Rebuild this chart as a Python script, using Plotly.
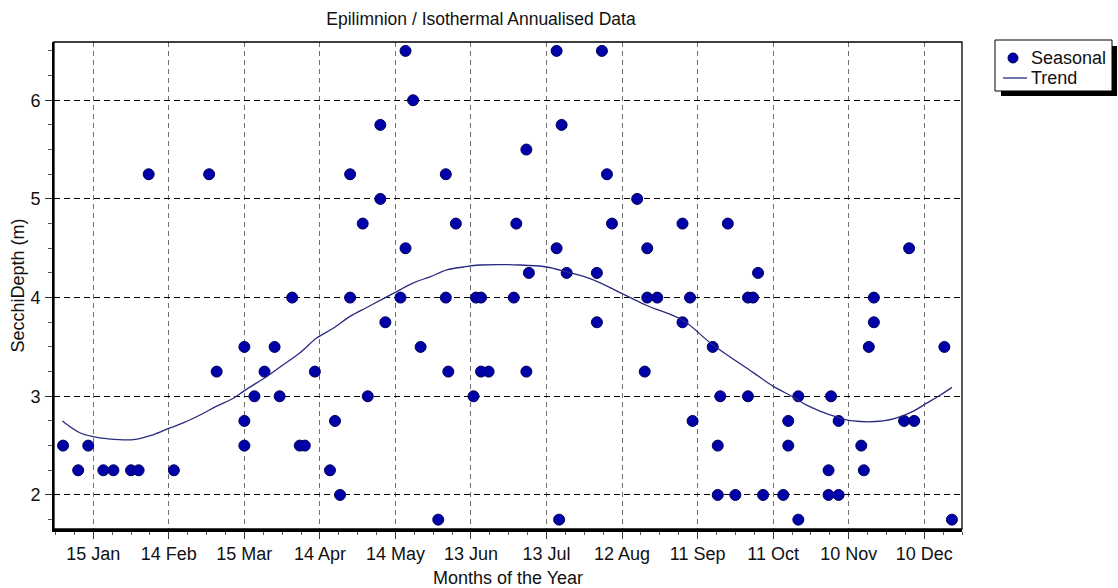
import plotly.graph_objects as go

# ---- data (day of year, Secchi depth in m) ----
seasonal_day = [3, 9, 13, 19, 23, 30, 33, 37, 47, 61, 64, 75, 75, 75, 79, 83, 87, 89, 94, 97,
                99, 103, 109, 111, 113, 117, 117, 122, 124, 129, 129, 131, 137, 139, 139, 142, 145, 152, 155, 155,
                156, 159, 166, 167, 169, 169, 172, 182, 183, 187, 187, 188, 199, 199, 200, 201, 203, 215, 215, 217,
                219, 221, 231, 234, 235, 235, 239, 249, 249, 252, 253, 261, 263, 263, 264, 267, 270, 275, 275, 277,
                279, 281, 289, 291, 291, 295, 295, 307, 307, 308, 311, 311, 320, 321, 323, 325, 325, 337, 339, 341,
                353, 356]
seasonal_depth = [2.5, 2.25, 2.5, 2.25, 2.25, 2.25, 2.25, 5.25, 2.25, 5.25, 3.25, 3.5, 2.75, 2.5, 3.0, 3.25, 3.5, 3.0, 4.0, 2.5,
                  2.5, 3.25, 2.25, 2.75, 2.0, 4.0, 5.25, 4.75, 3.0, 5.0, 5.75, 3.75, 4.0, 4.5, 6.5, 6.0, 3.5, 1.75, 5.25, 4.0,
                  3.25, 4.75, 3.0, 4.0, 4.0, 3.25, 3.25, 4.0, 4.75, 5.5, 3.25, 4.25, 6.5, 4.5, 1.75, 5.75, 4.25, 4.25, 3.75, 6.5,
                  5.25, 4.75, 5.0, 3.25, 4.0, 4.5, 4.0, 4.75, 3.75, 4.0, 2.75, 3.5, 2.5, 2.0, 3.0, 4.75, 2.0, 3.0, 4.0, 4.0,
                  4.25, 2.0, 2.0, 2.75, 2.5, 3.0, 1.75, 2.25, 2.0, 3.0, 2.0, 2.75, 2.5, 2.25, 3.5, 4.0, 3.75, 2.75, 4.5, 2.75,
                  3.5, 1.75]

trend_day = [2.7, 9.7, 15, 20.3, 30.9, 38.8, 45.5, 50.7, 57.4, 64, 70.6, 75.2, 83.9, 90.5, 97.1, 103.7, 110.3, 117,
             123.6, 130.2, 135.5, 142.1, 148.7, 155.4, 162, 168.6, 184.5, 195, 203, 213.6, 224.2, 234.8, 249.1,
             260.6, 277.1, 285.1, 292.4, 298.3, 303.6, 310.2, 316.8, 328.7, 334.1, 340.7, 346, 351.3, 356]
trend_depth = [2.75, 2.63, 2.59, 2.57, 2.56, 2.61, 2.68, 2.73, 2.81, 2.90, 2.98, 3.06, 3.20, 3.32, 3.44, 3.59, 3.69, 3.81,
               3.90, 3.99, 4.06, 4.15, 4.21, 4.28, 4.31, 4.33, 4.33, 4.31, 4.26, 4.18, 4.05, 3.92, 3.77,
               3.53, 3.24, 3.10, 3.00, 2.91, 2.85, 2.79, 2.75, 2.75, 2.78, 2.85, 2.93, 3.01, 3.09]

tick_days = [15, 45, 75, 105, 135, 165, 195, 225, 255, 285, 315, 345]
tick_labels = ["15 Jan", "14 Feb", "15 Mar", "14 Apr", "14 May", "13 Jun", "13 Jul",
               "12 Aug", "11 Sep", "11 Oct", "10 Nov", "10 Dec"]

legend_labels = ["Seasonal", "Trend"]

FONT = "Arial, Liberation Sans, sans-serif"
TXT = "#111111"
MARK_FILL, MARK_EDGE, TREND_COL = "#0000A8", "#00005A", "#2A2A80"
W, H = 1118, 588
L, R, T, B = 54, 962, 42, 529
pw, ph = R - L, B - T


def px(x):
    return (x - L) / pw


def py(y):
    return (B - y) / ph


fig = go.Figure()
fig.add_trace(go.Scatter(
    x=seasonal_day, y=seasonal_depth, mode="markers", name=legend_labels[0],
    marker=dict(symbol="circle", size=11, color=MARK_FILL,
                line=dict(color=MARK_EDGE, width=1)),
))
fig.add_trace(go.Scatter(
    x=trend_day, y=trend_depth, mode="lines", name=legend_labels[1],
    line=dict(color=TREND_COL, width=1.3, shape="spline", smoothing=1),
))

# thin frame on top/right
fig.add_shape(type="rect", xref="paper", yref="paper", x0=0, x1=1, y0=0, y1=1,
              line=dict(color="black", width=1.3), layer="above")

# legend box (drawn), with drop shadow
lx0, ly0, lx1, ly1 = 995, 40, 1112, 91
fig.add_shape(type="rect", xref="paper", yref="paper",
              x0=px(lx0 + 6), x1=px(lx1 + 5), y0=py(ly1 + 5), y1=py(ly0 + 6),
              fillcolor="black", line=dict(width=0), layer="above")
fig.add_shape(type="rect", xref="paper", yref="paper",
              x0=px(lx0), x1=px(lx1), y0=py(ly1), y1=py(ly0),
              fillcolor="white", line=dict(color="black", width=1), layer="above")
fig.add_shape(type="circle", xref="paper", yref="paper",
              x0=px(1008), x1=px(1018), y0=py(63), y1=py(53),
              fillcolor=MARK_FILL, line=dict(color=MARK_EDGE, width=1), layer="above")
fig.add_shape(type="line", xref="paper", yref="paper",
              x0=px(1003), x1=px(1027), y0=py(78), y1=py(78),
              line=dict(color=TREND_COL, width=1.3), layer="above")
for lab, yy in zip(legend_labels, [58, 78]):
    fig.add_annotation(text=lab, xref="paper", yref="paper", x=px(1029), y=py(yy),
                       xanchor="left", yanchor="middle", showarrow=False,
                       font=dict(family=FONT, size=18, color=TXT))

fig.update_layout(
    width=W, height=H,
    margin=dict(l=L, r=W - R, t=T, b=H - B, pad=0, autoexpand=False),
    paper_bgcolor="white", plot_bgcolor="white",
    font=dict(family=FONT, size=18, color=TXT),
    title=dict(text="Epilimnion / Isothermal Annualised Data",
               x=px(481), xref="paper", xanchor="center",
               y=1 - 19 / H, yref="container", yanchor="middle",
               font=dict(family=FONT, size=17.5, color=TXT)),
    showlegend=False,
    xaxis=dict(
        range=[-0.6, 360], tickmode="array", tickvals=tick_days, ticktext=tick_labels,
        automargin=False,
        showgrid=True, gridcolor="#6E6E6E", gridwidth=1, griddash="5px,4px",
        zeroline=False, showline=True, linecolor="black", linewidth=2.5,
        ticks="outside", ticklen=7, tickcolor="#333333", tickwidth=1,
        ticklabelstandoff=0,
        minor=dict(tickmode="linear", tick0=0, dtick=7.5, ticks="outside", ticklen=3,
                   tickcolor="#555555", showgrid=False),
        title=dict(text="Months of the Year", standoff=14,
                   font=dict(family=FONT, size=18, color=TXT)),
    ),
    yaxis=dict(
        range=[1.655, 6.59], tickmode="linear", tick0=2, dtick=1,
        automargin=False,
        showgrid=True, gridcolor="black", gridwidth=1.3, griddash="6px,4px",
        zeroline=False, showline=True, linecolor="black", linewidth=2,
        ticks="outside", ticklen=7, tickcolor="#333333", tickwidth=1,
        ticklabelstandoff=1,
        minor=dict(tickmode="linear", tick0=0, dtick=0.25, ticks="outside", ticklen=4,
                   tickcolor="#555555", showgrid=False),
        title=dict(text="SecchiDepth (m)", standoff=1,
                   font=dict(family=FONT, size=18, color=TXT)),
    ),
)

fig.write_html("out.html")
